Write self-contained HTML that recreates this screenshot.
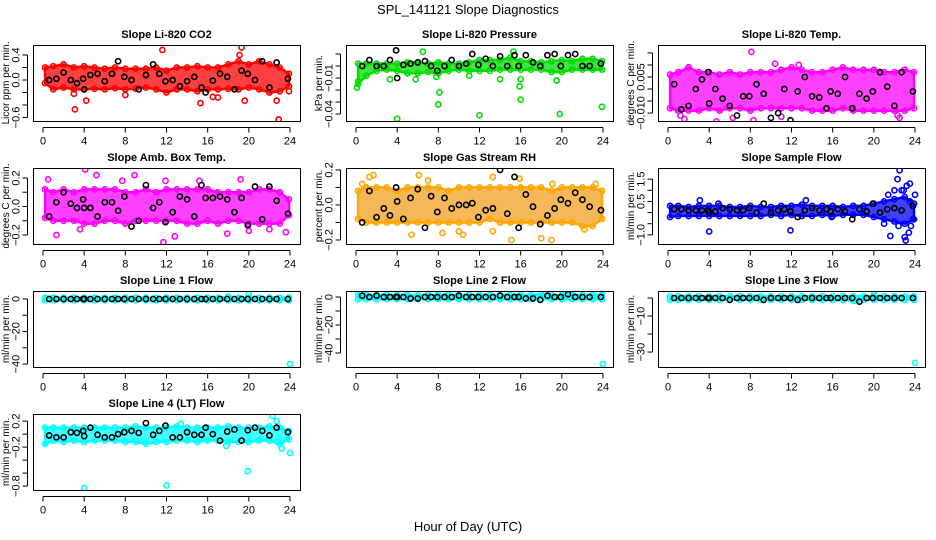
<!DOCTYPE html>
<html><head><meta charset="utf-8">
<style>
html,body{margin:0;padding:0;background:#fff;}
svg{display:block;font-family:"Liberation Sans",sans-serif;}
</style></head>
<body>
<svg id="chart" width="936" height="540" viewBox="0 0 936 540">
<text x="468" y="14" text-anchor="middle" font-size="13">SPL_141121  Slope Diagnostics</text>
<text x="468" y="531" text-anchor="middle" font-size="13">Hour of Day (UTC)</text>
</svg>
<script>
// ---- data ----
const bandHours = [0.2,1,2,3,4,5,6,7,8,9,10,11,12,13,14,15,16,17,18,19,20,21,22,23,23.9];
const blackHours = [0.6,1.3,2.0,2.7,3.3,3.9,4.0,4.6,5.3,6.0,6.7,7.3,7.9,8.6,9.3,10.0,10.7,11.3,11.9,12.6,13.3,14.0,14.7,15.4,15.8,16.5,17.2,17.9,18.6,19.3,19.9,20.6,21.3,22.0,22.7,23.8];
const xTicks = [0,4,8,12,16,20,24];

const co2Lo = [-0.05,-0.15,-0.12,-0.15,-0.15,-0.14,-0.15,-0.13,-0.15,-0.14,-0.12,-0.15,-0.2,-0.15,-0.15,-0.18,-0.15,-0.15,-0.14,-0.15,-0.12,-0.15,-0.2,-0.18,-0.1];
const co2Hi = [0.2,0.22,0.25,0.2,0.22,0.2,0.18,0.2,0.18,0.18,0.18,0.2,0.15,0.2,0.2,0.22,0.2,0.2,0.25,0.3,0.25,0.3,0.25,0.2,0.1];
const co2OutX = [3.1,4.2,11.6,15.3,19.3,19.6,22.7,22.9,3,8,23.9,16.5,17,19.1];
const co2OutY = [-0.47,-0.33,0.48,-0.37,0.52,-0.33,-0.33,-0.63,-0.22,-0.24,-0.18,-0.27,-0.28,0.4];
const co2Black = [0.0,0.02,0.12,0,-0.05,0.02,-0.15,0.08,0.1,-0.02,0.1,0.3,0.05,0,-0.15,0.08,0.25,0.1,-0.02,0,-0.1,-0.02,0.05,-0.12,-0.2,-0.01,0.1,0.05,-0.15,0.15,0.1,0,0.3,-0.12,0.28,0.02];

const presLo = [-0.015,-0.008,-0.004,-0.003,-0.004,-0.006,-0.006,-0.005,-0.006,-0.004,-0.003,-0.004,-0.004,-0.004,-0.003,-0.003,-0.003,-0.003,-0.003,-0.005,-0.005,-0.003,-0.003,-0.003,-0.003];
const presHi = [0.002,0.002,0.002,0.002,0.002,0.003,0.003,0.002,0.003,0.002,0.002,0.003,0.005,0.005,0.005,0.007,0.004,0.004,0.003,0.004,0.005,0.004,0.006,0.006,0.004];
const presOutX = [0.1,0.2,4,3.3,5.8,6.5,7.8,8.1,8,11,12,14,15.9,16,16,19.8,19.5,23.9,15.3];
const presOutY = [-0.018,-0.013,-0.044,-0.011,-0.011,0.012,-0.009,-0.022,-0.032,-0.008,-0.041,-0.011,-0.017,-0.028,-0.011,-0.040,-0.012,-0.034,0.012];
const presBlack = [0,0.005,0,0,0.005,0.013,-0.01,0.001,0.002,0.003,0.004,0,-0.004,0,0.005,0,0.002,0.01,0.001,0.006,0,0.008,0,0.009,0,0.009,0.003,0,0.009,0.01,0.0,0.009,0.01,0,0,0.002];

const tempLo = [-0.008,-0.009,-0.009,-0.009,-0.008,-0.009,-0.008,-0.008,-0.009,-0.008,-0.008,-0.008,-0.008,-0.008,-0.009,-0.009,-0.009,-0.008,-0.009,-0.009,-0.009,-0.009,-0.009,-0.009,-0.008];
const tempHi = [0.006,0.007,0.009,0.007,0.007,0.006,0.007,0.006,0.007,0.007,0.007,0.008,0.009,0.008,0.007,0.007,0.008,0.009,0.008,0.008,0.008,0.007,0.007,0.008,0.007];
const tempOutX = [1.2,1.6,4.7,6.3,8.1,8.3,10.4,11,2,12.7,22.3,22.5];
const tempOutY = [-0.011,-0.0125,-0.0135,-0.012,0.0155,-0.013,0.0105,-0.0115,0.009,0.01,-0.011,-0.012];
const tempBlack = [0.002,-0.0085,-0.007,0.0,0.004,0.007,-0.006,0.0,-0.004,-0.007,-0.011,-0.003,-0.003,0.002,-0.002,-0.012,-0.01,0.0,-0.013,-0.001,0.005,-0.003,-0.0035,-0.008,-0.001,-0.002,0.005,-0.008,-0.002,-0.004,-0.001,0.007,0.001,-0.007,0.007,-0.001];

const ambLo = [-0.08,-0.1,-0.1,-0.1,-0.12,-0.12,-0.1,-0.1,-0.12,-0.1,-0.1,-0.1,-0.1,-0.1,-0.12,-0.12,-0.1,-0.12,-0.1,-0.1,-0.12,-0.12,-0.12,-0.12,-0.06];
const ambHi = [0.12,0.1,0.12,0.1,0.12,0.12,0.12,0.12,0.1,0.1,0.12,0.1,0.12,0.12,0.12,0.12,0.12,0.1,0.1,0.1,0.1,0.12,0.12,0.1,0.05];
const ambOutX = [0.5,4.1,5.2,8.9,11.7,12.8,17.9,19.2,20,23.6,1.3,7.7,11.9,15.2,3.6,22];
const ambOutY = [0.19,0.26,0.22,0.22,-0.25,-0.21,-0.19,0.19,-0.17,-0.18,-0.2,0.18,0.18,0.18,-0.16,-0.16];
const ambBlack = [-0.07,0.03,0.1,0.02,-0.01,0.05,-0.01,-0.01,-0.07,0.03,0.03,-0.03,0.07,-0.14,-0.1,0.15,-0.01,0.03,-0.11,-0.04,0.07,0.05,-0.07,0.15,0.06,0.06,0.07,0.05,-0.04,0.06,-0.13,0.14,-0.09,0.14,0.04,-0.05];

const rhLo = [-0.08,-0.1,-0.1,-0.1,-0.1,-0.1,-0.1,-0.1,-0.1,-0.1,-0.1,-0.1,-0.1,-0.08,-0.1,-0.1,-0.1,-0.1,-0.1,-0.1,-0.1,-0.1,-0.12,-0.12,-0.08];
const rhHi = [0.08,0.1,0.1,0.1,0.08,0.1,0.1,0.1,0.1,0.08,0.1,0.1,0.1,0.1,0.1,0.1,0.1,0.1,0.1,0.08,0.1,0.1,0.1,0.1,0.08];
const rhOutX = [0.6,1.3,1.7,5.4,6.1,7,8.4,10,10.4,13.3,13.3,15.1,15.9,18,19,19.1,23.3,22.2];
const rhOutY = [0.12,0.16,0.17,-0.17,0.17,0.14,-0.16,-0.15,-0.17,0.16,-0.15,-0.2,0.15,-0.19,-0.2,0.12,0.12,-0.14];
const rhBlack = [-0.1,0.08,-0.07,-0.02,-0.06,0.1,0.02,-0.08,0.04,0.09,-0.13,0.05,-0.04,0.04,-0.02,0.0,0.0,0.01,-0.07,-0.03,-0.02,0.2,-0.05,0.16,-0.13,0.06,-0.01,-0.11,-0.06,-0.02,0.03,0.01,0.07,0.03,-0.01,-0.03];

const sfLo = [-0.2,-0.15,-0.15,-0.15,-0.15,-0.15,-0.15,-0.15,-0.15,-0.15,-0.1,-0.15,-0.1,-0.15,-0.15,-0.1,-0.15,-0.1,-0.1,-0.1,-0.2,-0.3,-0.4,-0.5,-0.3];
const sfHi = [0.3,0.3,0.25,0.3,0.3,0.3,0.25,0.25,0.3,0.25,0.25,0.3,0.3,0.35,0.3,0.3,0.3,0.25,0.3,0.3,0.4,0.5,0.6,0.7,0.4];
const sfOutX = [3.1,4,4.9,11.9,13.4,15.9,21.6,21.4,22,22.3,22.5,22.7,22.9,23.2,23.5,24,23,23.1,23.4,23.6,22.4,21,23.5,23.8];
const sfOutY = [0.55,-0.85,0.4,-0.8,0.55,-0.2,-1.05,0.8,1.0,1.5,1.9,1.0,1.0,1.2,1.3,0.8,-1.1,-1.25,-0.9,-0.6,-0.6,-0.5,0.5,-0.3];
const sfBlack = [0.15,0.15,0.1,0.1,0.1,0.1,0.0,0.05,0.2,0.15,0.1,0.1,0.2,0.0,0.4,0.0,0.1,0.15,0.05,-0.2,0.1,0.2,0.1,0.15,0.05,0.15,0.05,-0.3,0.15,0.05,0.4,0.0,0.15,0.2,0.1,0.3];

const l1Lo = [-0.8,-0.8,-0.8,-0.8,-0.8,-0.8,-0.8,-0.8,-0.8,-0.8,-0.8,-0.8,-0.8,-0.8,-0.8,-0.8,-0.8,-0.8,-0.8,-0.8,-0.8,-0.8,-0.8,-0.8,-0.8];
const l1Hi = [0.8,0.8,0.8,0.8,0.8,0.8,0.8,0.8,0.8,0.8,0.8,0.8,0.8,0.8,0.8,0.8,0.8,0.8,1.2,0.8,0.8,0.8,1,0.8,0.8];
const l1OutX = [24,20,18];
const l1OutY = [-40,3,1.5];
const l1Black = [0,0,0,0,0,0,0,0,0,0,0,0,0,0,0,0,0,0,0,0,0,0,0,0,0,0,0,0,0,0,0,0,0,0,0,0];

const l2Lo = [-1.5,-1.5,-1.5,-1.5,-1.5,-1.5,-1.5,-1.5,-1.5,-1.5,-1.5,-1.5,-1.5,-1.5,-1.5,-1.5,-1.5,-1.5,-1.5,-1.5,-1.5,-1.5,-1.5,-1.5,-1.5];
const l2Hi = [1.5,1.5,1.5,1.5,1.5,1.5,1.5,1.5,1.5,1.5,1.5,1.5,1.5,1.5,1.5,1.5,1.5,1.5,2,1.5,1.5,1.5,1.5,1.5,1.5];
const l2OutX = [24,18,20.8];
const l2OutY = [-48,2,2.5];
const l2Black = [1,0,1,0,0,0,0,0,-1,-1,0,0,0,0,0,1,0,0,0,0,0,1,0,0,0,-1,-1,-2,1,0,0,2,0,0,0,0];

const l3Lo = [-1,-1,-1,-1,-1,-1,-1,-1,-1,-1,-1,-1,-1,-1,-1,-1,-1,-1,-1.5,-1,-1,-1,-1,-1,-1];
const l3Hi = [1,1,1,1,1,1,1,1,1,1,1,1,1,1,1,1,1,1,1,1,1,1,1,1,1];
const l3OutX = [24,20,18.3];
const l3OutY = [-36,2,-1.5];
const l3Black = [0,0,0,0,0,0,0,0,0,-1,0,0,0,0,-1,0,0,0,0,-1,0,0,0,0,0,0,0,0,-2,0,0,0,0,0,0,0];

const l4Lo = [-0.15,-0.1,-0.12,-0.1,-0.12,-0.1,-0.1,-0.1,-0.12,-0.12,-0.15,-0.12,-0.12,-0.1,-0.1,-0.12,-0.1,-0.1,-0.12,-0.12,-0.12,-0.1,-0.1,-0.15,-0.08];
const l4Hi = [0.1,0.1,0.1,0.1,0.1,0.1,0.1,0.1,0.1,0.12,0.1,0.1,0.1,0.12,0.1,0.1,0.1,0.1,0.12,0.1,0.1,0.1,0.12,0.1,0.05];
const l4OutX = [4,12,19.9,22.3,22.7,23.2,24,17.8,13.4,22.8];
const l4OutY = [-0.83,-0.79,-0.57,0.28,0.2,-0.22,-0.29,-0.18,0.16,-0.12];
const l4Black = [-0.02,-0.05,-0.05,0.03,0.02,0.05,-0.03,0.1,-0.01,-0.05,-0.05,0.0,0.03,0.05,0.02,0.17,-0.01,0.05,0.13,-0.05,-0.05,0.03,-0.01,-0.01,0.1,0.0,-0.1,0.04,0.07,-0.1,0.06,0.1,0.05,-0.02,0.1,0.03];

// ---- panels ----
const panels = [
 {name:'co2',title:'Slope Li-820 CO2',ylab:'Licor ppm per min.',col:0,row:0,ymin:-0.656,ymax:0.56,ticks:[-0.6,-0.4,-0.2,0,0.2,0.4],labels:[-0.6,0,0.4],fmt:1,color:'#ff0000',lo:co2Lo,hi:co2Hi,ox:co2OutX,oy:co2OutY,bk:co2Black},
 {name:'pressure',title:'Slope Li-820 Pressure',ylab:'kPa per min.',col:1,row:0,ymin:-0.0458,ymax:0.0175,ticks:[0.01,0,-0.01,-0.02,-0.03,-0.04],labels:[-0.01,-0.04],fmt:2,color:'#00dd00',lo:presLo,hi:presHi,ox:presOutX,oy:presOutY,bk:presBlack},
 {name:'temp',title:'Slope Li-820 Temp.',ylab:'degrees C per min.',col:2,row:0,ymin:-0.0133,ymax:0.0183,ticks:[0.015,0.01,0.005,0,-0.005,-0.01],labels:[0.005,-0.01],fmt:3,color:'#ff00ff',lo:tempLo,hi:tempHi,ox:tempOutX,oy:tempOutY,bk:tempBlack},
 {name:'amb-box-temp',title:'Slope Amb. Box Temp.',ylab:'degrees C per min.',col:0,row:1,ymin:-0.263,ymax:0.27,ticks:[0.2,0.1,0,-0.1,-0.2],labels:[0.2,0,-0.2],fmt:1,color:'#ff00ff',lo:ambLo,hi:ambHi,ox:ambOutX,oy:ambOutY,bk:ambBlack},
 {name:'gas-rh',title:'Slope Gas Stream RH',ylab:'percent per min.',col:1,row:1,ymin:-0.223,ymax:0.211,ticks:[0.2,0.1,0,-0.1,-0.2],labels:[0.2,0,-0.2],fmt:1,color:'#ffa500',fill:'#f0a020',lo:rhLo,hi:rhHi,ox:rhOutX,oy:rhOutY,bk:rhBlack},
 {name:'sample-flow',title:'Slope Sample Flow',ylab:'ml/min per min.',col:2,row:1,ymin:-1.41,ymax:2.0,ticks:[1.5,1,0.5,0,-0.5,-1],labels:[1.5,0.5,-1],fmt:1,color:'#0000ff',lo:sfLo,hi:sfHi,ox:sfOutX,oy:sfOutY,bk:sfBlack},
 {name:'line1-flow',title:'Slope Line 1 Flow',ylab:'ml/min per min.',col:0,row:2,ymin:-41.8,ymax:4.9,ticks:[0,-10,-20,-30,-40],labels:[0,-20,-40],fmt:0,color:'#00ffff',lo:l1Lo,hi:l1Hi,ox:l1OutX,oy:l1OutY,bk:l1Black},
 {name:'line2-flow',title:'Slope Line 2 Flow',ylab:'ml/min per min.',col:1,row:2,ymin:-50,ymax:4.3,ticks:[0,-10,-20,-30,-40],labels:[0,-20,-40],fmt:0,color:'#00ffff',lo:l2Lo,hi:l2Hi,ox:l2OutX,oy:l2OutY,bk:l2Black},
 {name:'line3-flow',title:'Slope Line 3 Flow',ylab:'ml/min per min.',col:2,row:2,ymin:-38.3,ymax:3.9,ticks:[0,-10,-20,-30],labels:[-10,-30],fmt:0,color:'#00ffff',lo:l3Lo,hi:l3Hi,ox:l3OutX,oy:l3OutY,bk:l3Black},
 {name:'line4-flow',title:'Slope Line 4 (LT) Flow',ylab:'ml/min per min.',col:0,row:3,ymin:-0.86,ymax:0.31,ticks:[0.2,0,-0.2,-0.4,-0.6,-0.8],labels:[0.2,-0.2,-0.8],fmt:1,color:'#00ffff',lo:l4Lo,hi:l4Hi,ox:l4OutX,oy:l4OutY,bk:l4Black}
];
const colLeft = [33,346,658];
const rowTop = [45,168,291,414];
const PW = 267, PH = 76;
const NS = 'http://www.w3.org/2000/svg';
const svg = document.getElementById('chart');

function mk(tag, attrs, parent){
  const e = document.createElementNS(NS, tag);
  for (const k in attrs) e.setAttribute(k, attrs[k]);
  parent.appendChild(e);
  return e;
}
function fmtNum(v, d){
  const s = v.toFixed(d);
  return s.replace('-', '\u2212');
}

panels.forEach(p => {
  const L = colLeft[p.col], T = rowTop[p.row];
  const xs = h => L + 10 + h * (PW - 20) / 24;
  const ys = v => T + (p.ymax - v) / (p.ymax - p.ymin) * PH;
  const g = mk('g', {}, svg);
  
  

  const t = mk('text', {x: L + PW/2, y: T - 7, 'text-anchor':'middle','font-size':'11','font-weight':'bold'}, g);
  t.textContent = p.title;
  
  

  const cid = 'clip-' + p.name;
  const cp = mk('clipPath', {id: cid}, g);
  mk('rect', {x: L, y: T, width: PW, height: PH}, cp);
  const data = mk('g', {'clip-path': 'url(#' + cid + ')'}, g);
  
  

  let d = '';
  bandHours.forEach((h, i) => { d += (i ? 'L' : 'M') + xs(h).toFixed(1) + ' ' + ys(p.hi[i]).toFixed(1); });
  for (let i = bandHours.length - 1; i >= 0; i--) d += 'L' + xs(bandHours[i]).toFixed(1) + ' ' + ys(p.lo[i]).toFixed(1);
  d += 'Z';
  const band = mk('path', {d: d, fill: p.fill || p.color, 'fill-opacity': '0.75', stroke: p.color, 'stroke-width': '2.5'}, data);
  
  

  bandHours.forEach((h, i) => {
    [p.lo[i], p.hi[i]].forEach(v => {
      const c = mk('circle', {cx: xs(h), cy: ys(v), r: 2.6, fill: 'none', stroke: p.color, 'stroke-width': 1.6}, data);
      
      
    });
  });
  p.ox.forEach((h, i) => {
    const c = mk('circle', {cx: xs(h), cy: ys(p.oy[i]), r: 2.6, fill: 'none', stroke: p.color, 'stroke-width': 1.6}, data);
    
    
  });
  blackHours.forEach((h, i) => {
    const c = mk('circle', {cx: xs(h), cy: ys(p.bk[i]), r: 2.6, fill: 'none', stroke: '#000', 'stroke-width': 1.6}, data);
    
    
  });

  const box = mk('rect', {x: L + 0.5, y: T + 0.5, width: PW, height: PH, fill: 'none', stroke: '#000', 'stroke-width': 1}, g);
  
  

  const B = T + PH + 0.5;
  mk('line', {x1: xs(0), x2: xs(24), y1: B + 6, y2: B + 6, stroke: '#000'}, g);
  xTicks.forEach(v => {
    mk('line', {x1: xs(v), x2: xs(v), y1: B + 6, y2: B + 11, stroke: '#000'}, g);
    const tl = mk('text', {x: xs(v), y: B + 23, 'text-anchor': 'middle', 'font-size': '11'}, g);
    tl.textContent = v;
    
    
  });
  const A = L - 5.5;
  const tmin = Math.min(...p.ticks), tmax = Math.max(...p.ticks);
  mk('line', {x1: A, x2: A, y1: ys(tmin), y2: ys(tmax), stroke: '#000'}, g);
  p.ticks.forEach(v => {
    mk('line', {x1: A, x2: A - 5, y1: ys(v), y2: ys(v), stroke: '#000'}, g);
  });
  p.labels.forEach(v => {
    const yl = mk('text', {x: 0, y: 0, 'text-anchor': 'middle', 'font-size': '11', transform: 'translate(' + (A - 8) + ',' + ys(v) + ') rotate(-90)'}, g);
    yl.textContent = fmtNum(v, p.fmt);
    
    
  });
  const yt = mk('text', {x: 0, y: 0, 'text-anchor': 'middle', 'font-size': '10', transform: 'translate(' + (L - 24) + ',' + (T + PH/2) + ') rotate(-90)'}, g);
  yt.textContent = p.ylab;
  
  
});
</script>
</body></html>
